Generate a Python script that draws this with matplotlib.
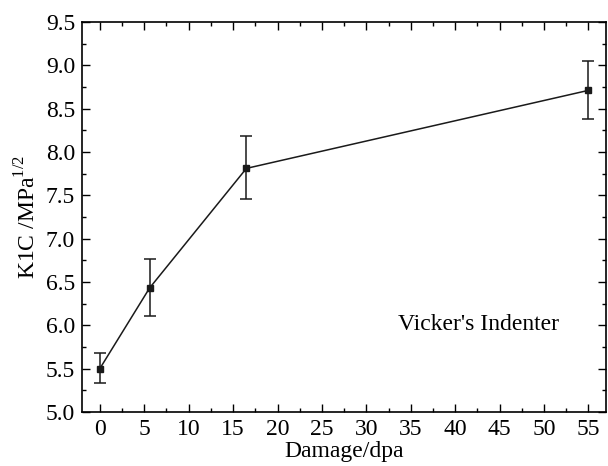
import matplotlib.pyplot as plt
from matplotlib.ticker import MultipleLocator

plt.rcParams['font.family'] = ['Liberation Serif', 'DejaVu Serif']
plt.rcParams['mathtext.fontset'] = 'custom'
plt.rcParams['mathtext.rm'] = 'Liberation Serif'

damage = [0, 5.6, 16.5, 55]
k1c = [5.50, 6.43, 7.81, 8.71]
err_low = [5.33, 6.11, 7.46, 8.38]
err_high = [5.68, 6.76, 8.18, 9.05]

yerr = [[v - lo for v, lo in zip(k1c, err_low)],
        [hi - v for v, hi in zip(k1c, err_high)]]

fig = plt.figure(figsize=(6.08, 4.66), dpi=100)
ax = fig.add_axes([0.135, 0.116, 0.862, 0.837])

ax.errorbar(damage, k1c, yerr=yerr, color='#1a1a1a', marker='s', markersize=5,
            linewidth=1.1, elinewidth=1.1, capsize=4, capthick=1.1)

ax.set_xlim(-2, 57)
ax.set_ylim(5.0, 9.5)
ax.xaxis.set_major_locator(MultipleLocator(5))
ax.xaxis.set_minor_locator(MultipleLocator(2.5))
ax.yaxis.set_major_locator(MultipleLocator(0.5))
ax.yaxis.set_minor_locator(MultipleLocator(0.25))
ax.yaxis.set_major_formatter(plt.FormatStrFormatter('%.1f'))
ax.tick_params(which='both', direction='in', top=True, right=True, labelsize=17)
ax.tick_params(which='major', length=6, width=1, pad=5)
ax.tick_params(which='minor', length=3, width=1)
for s in ax.spines.values():
    s.set_linewidth(1.2)

ax.set_xlabel('Damage/dpa', fontsize=17, labelpad=1)
ax.set_ylabel(r'K1C /MPa$^{1/2}$', fontsize=17, labelpad=4)
ax.text(0.756, 0.223, "Vicker's Indenter", transform=ax.transAxes,
        ha='center', va='center', fontsize=17)

fig.savefig('out.png', dpi=100)
